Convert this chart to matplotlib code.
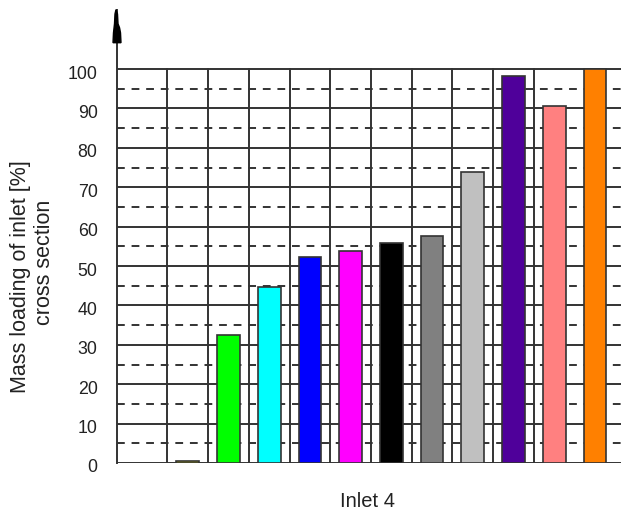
import matplotlib
matplotlib.use("Agg")
import matplotlib.pyplot as plt
from matplotlib.transforms import ScaledTranslation

plt.rcParams['font.family'] = ['Liberation Sans', 'DejaVu Sans']

# bar heights per case (percent of inlet cross section)
cases = list(range(11))
loading = [0.6, 32.5, 44.6, 52.2, 53.9, 55.8, 57.5, 74.0, 98.3, 90.6, 100.0]
colors = ['#cccc00', '#00ff00', '#00ffff', '#0000ff', '#ff00ff', '#000000',
          '#808080', '#c0c0c0', '#4f009a', '#ff8080', '#ff8000']
yticks = [0, 10, 20, 30, 40, 50, 60, 70, 80, 90, 100]

fig = plt.figure(figsize=(6.21, 5.13), dpi=100)
ax = fig.add_axes([0.1884, 0.0975, 0.8116, 0.883])

x_left, x_right = -1.74, 10.64
ax.set_xlim(x_left, x_right)
ax.set_ylim(0, 115)

grid_c = '#333333'
# horizontal grid: solid every 10, dashed in between
for v in range(0, 101, 10):
    ax.axhline(v, color=grid_c, lw=1.4, zorder=1)
for v in range(5, 100, 10):
    ax.axhline(v, color=grid_c, lw=1.4, ls=(0, (4, 3.5)), zorder=1)
# vertical slot separators
for b in range(10):
    ax.plot([b - 0.5, b - 0.5], [0, 100], color=grid_c, lw=1.4, zorder=1)

ax.bar(cases, loading, width=0.56, color=colors, edgecolor='#333333',
       linewidth=1.2, zorder=3)

for s in ['top', 'right', 'bottom']:
    ax.spines[s].set_visible(False)
ax.spines['left'].set_color(grid_c)
ax.spines['left'].set_linewidth(1.4)

# spike on top of the value axis
ax.fill([-1.765, -1.728, -1.715, -1.678, -1.654, -1.642, -1.838, -1.826, -1.801, -1.789],
        [115.1, 114.0, 111.5, 110.5, 109.2, 106.7, 106.7, 109.2, 111.5, 114.0],
        color='black', clip_on=False, zorder=5)

ax.set_xticks([])
ax.set_yticks(yticks)
ax.tick_params(axis='y', length=0, pad=14, labelsize=12.8, colors='#222222')
shift = ScaledTranslation(0, -3 / 100, fig.dpi_scale_trans)
for lab in ax.get_yticklabels():
    lab.set_transform(lab.get_transform() + shift)

fig.text(21 / 621, 1 - 277 / 513, 'Mass loading of inlet [%]', rotation=90,
         ha='center', va='center', fontsize=15.5, color='#222222')
fig.text(44 / 621, 1 - 262 / 513, 'cross section', rotation=90,
         ha='center', va='center', fontsize=15.5, color='#222222')
fig.text(368 / 621, 6 / 513, 'Inlet 4', ha='center', va='baseline',
         fontsize=14.5, color='#222222')

fig.savefig('out.png', dpi=100)
